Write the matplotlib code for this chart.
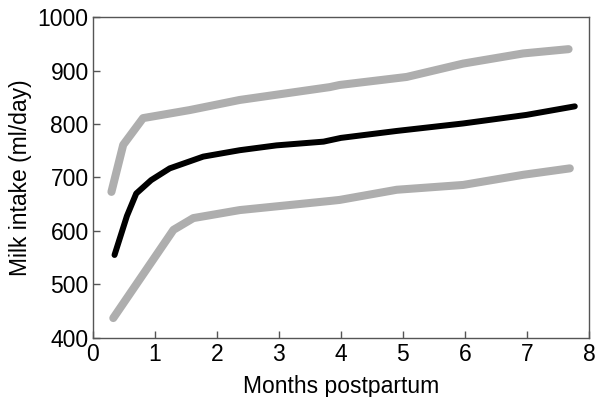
import matplotlib
matplotlib.use("Agg")
import matplotlib.pyplot as plt

plt.rcParams['font.family'] = ['Liberation Sans', 'DejaVu Sans']

# Median milk intake (black) and upper / lower bounds (grey)
mid_x = [0.35, 0.55, 0.70, 0.94, 1.24, 1.78, 2.37, 2.96, 3.72, 4.00, 4.90, 5.97, 6.99, 7.77]
mid_y = [555, 628, 670, 695, 717, 739, 751, 760, 767, 774, 787, 801, 817, 833]

upper_x = [0.30, 0.49, 0.81, 1.56, 2.37, 3.82, 3.98, 5.06, 5.97, 6.94, 7.67]
upper_y = [673, 761, 811, 826, 845, 869, 873, 888, 913, 932, 940]

lower_x = [0.33, 1.30, 1.62, 2.37, 3.82, 3.98, 4.90, 5.97, 6.94, 7.69]
lower_y = [437, 602, 624, 639, 656, 658, 677, 686, 705, 717]

fig = plt.figure(figsize=(5.95, 3.97), dpi=100)
ax = fig.add_axes([0.156, 0.149, 0.834, 0.808])

grey = '#aeaeae'
ax.plot(upper_x, upper_y, color=grey, linewidth=5.8, solid_capstyle='round', solid_joinstyle='round')
ax.plot(lower_x, lower_y, color=grey, linewidth=5.8, solid_capstyle='round', solid_joinstyle='round')
ax.plot(mid_x, mid_y, color='black', linewidth=4.3, solid_capstyle='round', solid_joinstyle='round')

ax.set_xlim(0, 8)
ax.set_ylim(400, 1000)
ax.set_xticks(range(0, 9))
ax.set_yticks(range(400, 1001, 100))
ax.tick_params(direction='in', length=5, width=1, color='#555555', labelsize=16.5)
ax.tick_params(axis='y', pad=3)
ax.tick_params(axis='x', pad=4)
for s in ax.spines.values():
    s.set_color('#555555')
    s.set_linewidth(1)

ax.set_xlabel('Months postpartum', fontsize=16.5, labelpad=6)
ax.set_ylabel('Milk intake (ml/day)', fontsize=16.5, labelpad=4)

plt.savefig('out.png', dpi=100)
